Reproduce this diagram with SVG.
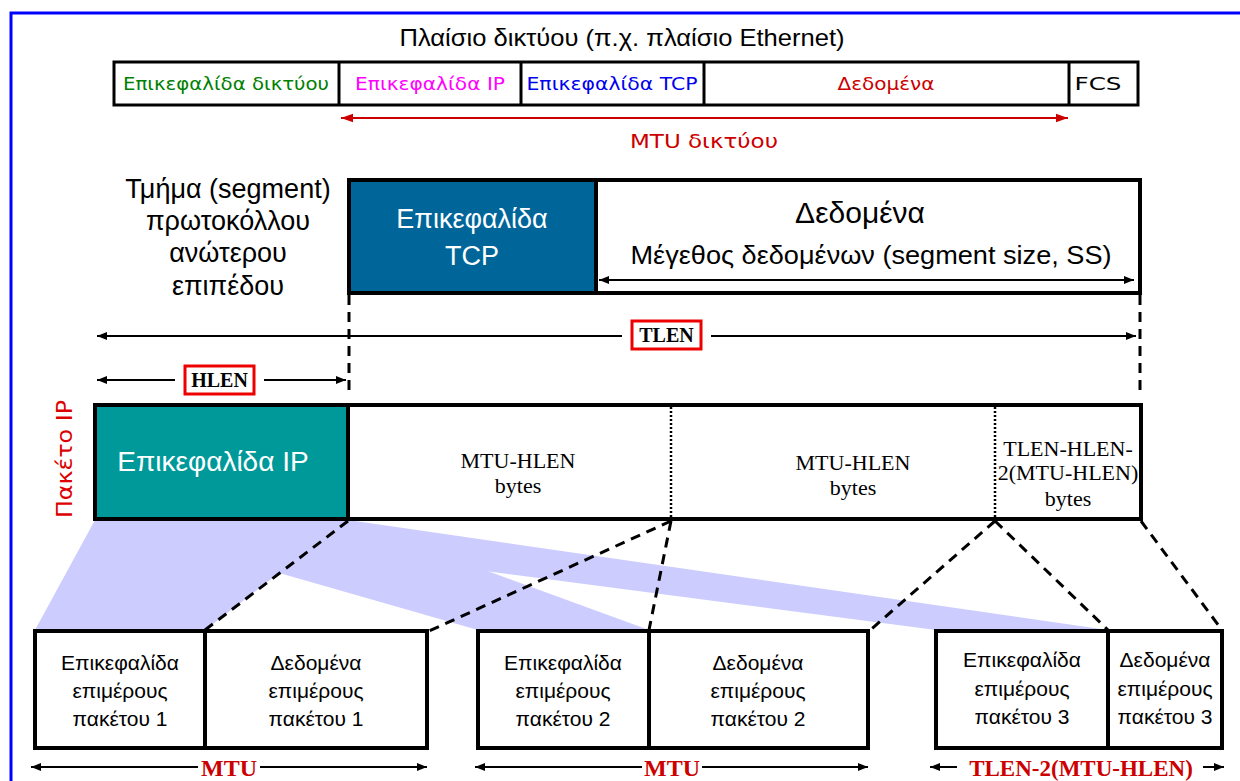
<svg xmlns="http://www.w3.org/2000/svg" width="1240" height="781" viewBox="0 0 1240 781">
<defs>
<marker id="ah" viewBox="0 0 10 10" refX="10" refY="5" markerWidth="10" markerHeight="10" markerUnits="userSpaceOnUse" orient="auto-start-reverse"><path d="M0,1 L10,5 L0,9 z" fill="#000"/></marker>
<marker id="ahr" viewBox="0 0 10 10" refX="10" refY="5" markerWidth="12" markerHeight="12" markerUnits="userSpaceOnUse" orient="auto-start-reverse"><path d="M0,1.5 L10,5 L0,8.5 z" fill="#cc0000"/></marker>
<style>
.sans{font-family:"Liberation Sans","DejaVu Sans",sans-serif}
.tah{font-family:"DejaVu Sans","Liberation Sans",sans-serif}
.serif{font-family:"Liberation Serif","DejaVu Serif",serif}
.box{fill:#fff;stroke:#000;stroke-width:4}
.dash{fill:none;stroke:#000;stroke-width:3;stroke-dasharray:10 7}
.dot{fill:none;stroke:#000;stroke-width:2.5;stroke-dasharray:2 2}
.arr{fill:none;stroke:#000;stroke-width:2}
.band{fill:#ccccff}
.lbl{fill:#fff;stroke:#ee0000;stroke-width:3}
.red{fill:#cc0000}
</style>
</defs>
<rect x="11" y="13" width="1250" height="800" fill="none" stroke="#0000ff" stroke-width="3"/>

<g id="bands">
<polygon class="band" points="95,520 348,520 205,630 35,630"/>
<polygon class="band" points="95,520 348,520 649,630 478,630"/>
<polygon class="band" points="95,520 348,520 1108,630 936,630"/>
</g>

<g id="ethernet-frame">
<text class="sans" x="622" y="46" font-size="24" text-anchor="middle" textLength="445" lengthAdjust="spacingAndGlyphs">Πλαίσιο δικτύου (π.χ. πλαίσιο Ethernet)</text>
<rect x="114" y="62" width="1024" height="43" fill="#fff" stroke="#000" stroke-width="3"/>
<line x1="339" y1="62" x2="339" y2="105" stroke="#000" stroke-width="3"/>
<line x1="521" y1="62" x2="521" y2="105" stroke="#000" stroke-width="3"/>
<line x1="704" y1="62" x2="704" y2="105" stroke="#000" stroke-width="3"/>
<line x1="1069" y1="62" x2="1069" y2="105" stroke="#000" stroke-width="3"/>
<text class="tah" x="226" y="90" font-size="17" fill="#008000" text-anchor="middle" textLength="206" lengthAdjust="spacingAndGlyphs">Επικεφαλίδα δικτύου</text>
<text class="tah" x="430" y="90" font-size="17" fill="#ff00ff" text-anchor="middle" textLength="150" lengthAdjust="spacingAndGlyphs">Επικεφαλίδα IP</text>
<text class="tah" x="612" y="90" font-size="17" fill="#0000ee" text-anchor="middle" textLength="171" lengthAdjust="spacingAndGlyphs">Επικεφαλίδα TCP</text>
<text class="tah" x="886" y="90" font-size="17" fill="#cc0000" text-anchor="middle" textLength="97" lengthAdjust="spacingAndGlyphs">Δεδομένα</text>
<text class="tah" x="1098" y="90" font-size="17" text-anchor="middle" textLength="47" lengthAdjust="spacingAndGlyphs">FCS</text>
</g>

<g id="mtu-network">
<line x1="341" y1="118" x2="1068" y2="118" stroke="#cc0000" stroke-width="2" marker-start="url(#ahr)" marker-end="url(#ahr)"/>
<text class="tah" x="704" y="148" font-size="20" fill="#cc0000" text-anchor="middle" textLength="148" lengthAdjust="spacingAndGlyphs">MTU δικτύου</text>
</g>

<g id="segment-label">
<text class="sans" x="228" y="198" font-size="27" text-anchor="middle">Τμήμα (segment)</text>
<text class="sans" x="228" y="230" font-size="27" text-anchor="middle">πρωτοκόλλου</text>
<text class="sans" x="228" y="262" font-size="27" text-anchor="middle">ανώτερου</text>
<text class="sans" x="228" y="295" font-size="27" text-anchor="middle">επιπέδου</text>
</g>

<g id="tcp-segment">
<rect x="349" y="180" width="791" height="113" class="box"/>
<rect x="349" y="180" width="247" height="113" fill="#006699" stroke="#000" stroke-width="4"/>
<text class="sans" x="472" y="228" font-size="27" fill="#fff" text-anchor="middle">Επικεφαλίδα</text>
<text class="sans" x="472" y="265" font-size="27" fill="#fff" text-anchor="middle">TCP</text>
<text class="sans" x="860" y="223" font-size="30" text-anchor="middle">Δεδομένα</text>
<text class="sans" x="871" y="264" font-size="26" text-anchor="middle" textLength="481" lengthAdjust="spacingAndGlyphs">Μέγεθος δεδομένων (segment size, SS)</text>
<line x1="599" y1="280" x2="1134" y2="280" class="arr" marker-start="url(#ah)" marker-end="url(#ah)"/>
</g>

<g id="connectors">
<line x1="349" y1="295" x2="349" y2="392" class="dash"/>
<line x1="1140" y1="295" x2="1140" y2="392" class="dash"/>
<line x1="348" y1="521" x2="205" y2="630" class="dash"/>
<line x1="671" y1="521" x2="427" y2="632" class="dash"/>
<line x1="671" y1="521" x2="649" y2="630" class="dash"/>
<line x1="995" y1="521" x2="868" y2="632" class="dash"/>
<line x1="995" y1="521" x2="1108" y2="630" class="dash"/>
<line x1="1141" y1="521" x2="1222" y2="630" class="dash"/>
</g>

<g id="tlen">
<line x1="97" y1="336" x2="622" y2="336" class="arr" marker-start="url(#ah)"/>
<line x1="711" y1="336" x2="1136" y2="336" class="arr" marker-end="url(#ah)"/>
<rect x="632" y="321" width="69" height="28" class="lbl"/>
<text class="serif" x="666.5" y="342" font-size="20" font-weight="bold" text-anchor="middle">TLEN</text>
</g>

<g id="hlen">
<line x1="97" y1="380" x2="175" y2="380" class="arr" marker-start="url(#ah)"/>
<line x1="264" y1="380" x2="346" y2="380" class="arr" marker-end="url(#ah)"/>
<rect x="185" y="366" width="69" height="28" class="lbl"/>
<text class="serif" x="219.5" y="387" font-size="20" font-weight="bold" text-anchor="middle">HLEN</text>
</g>

<g id="ip-packet">
<text class="tah" transform="translate(72,459) rotate(-90)" font-size="22" fill="#dd0000" text-anchor="middle" textLength="118" lengthAdjust="spacingAndGlyphs">Πακέτο IP</text>
<rect x="95" y="405" width="1046" height="114" class="box"/>
<rect x="95" y="405" width="253" height="114" fill="#009999" stroke="#000" stroke-width="4"/>
<text class="sans" x="213" y="471" font-size="28" fill="#fff" text-anchor="middle">Επικεφαλίδα IP</text>
<line x1="671" y1="407" x2="671" y2="517" class="dot"/>
<line x1="995" y1="407" x2="995" y2="517" class="dot"/>
<text class="serif" x="518" y="468" font-size="22" text-anchor="middle">MTU-HLEN</text>
<text class="serif" x="518" y="493" font-size="22" text-anchor="middle">bytes</text>
<text class="serif" x="853" y="470" font-size="22" text-anchor="middle">MTU-HLEN</text>
<text class="serif" x="853" y="495" font-size="22" text-anchor="middle">bytes</text>
<text class="serif" x="1068" y="456" font-size="22" text-anchor="middle">TLEN-HLEN-</text>
<text class="serif" x="1068" y="480" font-size="22" text-anchor="middle">2(MTU-HLEN)</text>
<text class="serif" x="1068" y="506" font-size="22" text-anchor="middle">bytes</text>
</g>

<g id="fragment-1">
<rect x="35" y="631" width="392" height="117" class="box"/>
<line x1="205" y1="631" x2="205" y2="748" stroke="#000" stroke-width="4"/>
<text class="sans" x="120" y="670" font-size="21" text-anchor="middle">Επικεφαλίδα</text>
<text class="sans" x="120" y="698" font-size="21" text-anchor="middle">επιμέρους</text>
<text class="sans" x="120" y="726" font-size="21" text-anchor="middle">πακέτου 1</text>
<text class="sans" x="316" y="670" font-size="21" text-anchor="middle">Δεδομένα</text>
<text class="sans" x="316" y="698" font-size="21" text-anchor="middle">επιμέρους</text>
<text class="sans" x="316" y="726" font-size="21" text-anchor="middle">πακέτου 1</text>
<line x1="31" y1="767" x2="198" y2="767" class="arr" marker-start="url(#ah)"/>
<line x1="260" y1="767" x2="427" y2="767" class="arr" marker-end="url(#ah)"/>
<text class="serif red" x="229" y="776" font-size="24" font-weight="bold" text-anchor="middle">MTU</text>
</g>

<g id="fragment-2">
<rect x="478" y="631" width="390" height="117" class="box"/>
<line x1="649" y1="631" x2="649" y2="748" stroke="#000" stroke-width="4"/>
<text class="sans" x="563" y="670" font-size="21" text-anchor="middle">Επικεφαλίδα</text>
<text class="sans" x="563" y="698" font-size="21" text-anchor="middle">επιμέρους</text>
<text class="sans" x="563" y="726" font-size="21" text-anchor="middle">πακέτου 2</text>
<text class="sans" x="758" y="670" font-size="21" text-anchor="middle">Δεδομένα</text>
<text class="sans" x="758" y="698" font-size="21" text-anchor="middle">επιμέρους</text>
<text class="sans" x="758" y="726" font-size="21" text-anchor="middle">πακέτου 2</text>
<line x1="475" y1="767" x2="642" y2="767" class="arr" marker-start="url(#ah)"/>
<line x1="702" y1="767" x2="868" y2="767" class="arr" marker-end="url(#ah)"/>
<text class="serif red" x="672" y="776" font-size="24" font-weight="bold" text-anchor="middle">MTU</text>
</g>

<g id="fragment-3">
<rect x="936" y="631" width="286" height="117" class="box"/>
<line x1="1108" y1="631" x2="1108" y2="748" stroke="#000" stroke-width="4"/>
<text class="sans" x="1022" y="667" font-size="21" text-anchor="middle">Επικεφαλίδα</text>
<text class="sans" x="1022" y="696" font-size="21" text-anchor="middle">επιμέρους</text>
<text class="sans" x="1022" y="724" font-size="21" text-anchor="middle">πακέτου 3</text>
<text class="sans" x="1165" y="667" font-size="21" text-anchor="middle">Δεδομένα</text>
<text class="sans" x="1165" y="696" font-size="21" text-anchor="middle">επιμέρους</text>
<text class="sans" x="1165" y="724" font-size="21" text-anchor="middle">πακέτου 3</text>
<line x1="930" y1="767" x2="957" y2="767" class="arr" marker-start="url(#ah)"/>
<line x1="1203" y1="767" x2="1224" y2="767" class="arr" marker-end="url(#ah)"/>
<text class="serif red" x="1081" y="776" font-size="23" font-weight="bold" text-anchor="middle">TLEN-2(MTU-HLEN)</text>
</g>
</svg>
